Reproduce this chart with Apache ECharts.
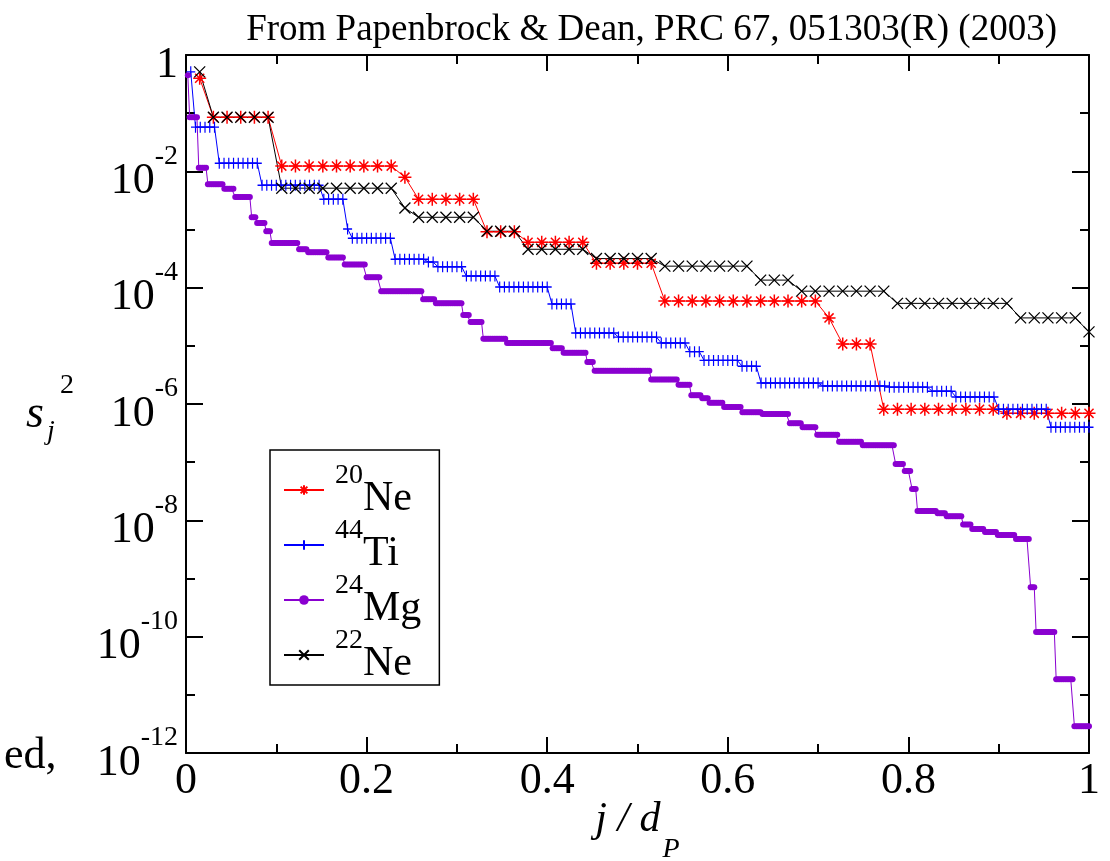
<!DOCTYPE html>
<html>
<head>
<meta charset="utf-8">
<script src="https://cdn.jsdelivr.net/npm/echarts@6/dist/echarts.min.js"></script>
<style>
html,body{margin:0;padding:0;background:#fff;}
#chart{width:1110px;height:861px;}
</style>
</head>
<body>
<div id="chart"></div>
<script>
// proton-space dimensions d_P (number of points j = 1..d_P)
const dP_Ne20 = 66, dP_Ne22 = 66, dP_Ti44 = 190, dP_Mg24 = 495;

// Each series is a staircase: run lengths (points) and log10(s_j^2) of each plateau
const ne20Counts = [1,5,9,1,5,3,5,5,12,1,3,9,7];
const ne20Levels = [-0.40,-1.07,-1.91,-2.10,-2.48,-3.04,-3.22,-3.58,-4.23,-4.52,-4.97,-6.09,-6.16];

const ti44Counts = [1,5,9,13,5,1,9,7,2,6,7,11,5,9,9,6,3,8,4,13,14,9,5,9,11,9];
const ti44Levels = [-0.29,-1.24,-1.86,-2.24,-2.48,-2.99,-3.15,-3.51,-3.56,-3.64,-3.80,-3.99,-4.28,-4.78,-4.85,-4.95,-5.10,-5.25,-5.35,-5.64,-5.69,-5.71,-5.78,-5.88,-6.09,-6.40];

const mg24Counts = [1,5,5,9,6,9,3,5,3,15,5,11,9,12,8,23,7,15,4,7,13,25,6,13,4,31,15,7,6,4,8,10,11,15,7,8,12,13,18,5,4,3,11,5,9,5,7,7,10,8,3,11,10,9];
const mg24Levels = [-0.35,-1.07,-1.94,-2.22,-2.30,-2.44,-2.79,-2.89,-3.03,-3.23,-3.34,-3.39,-3.48,-3.60,-3.82,-4.06,-4.20,-4.27,-4.47,-4.59,-4.88,-4.95,-5.04,-5.12,-5.28,-5.43,-5.58,-5.67,-5.85,-5.90,-5.98,-6.05,-6.14,-6.17,-6.33,-6.40,-6.53,-6.65,-6.71,-7.03,-7.15,-7.46,-7.84,-7.88,-7.93,-8.07,-8.15,-8.20,-8.25,-8.32,-9.15,-9.92,-10.73,-11.54];

const ne22Counts = [1,5,9,1,5,3,5,5,7,3,7,9,5,1];
const ne22Levels = [-0.29,-1.07,-2.29,-2.63,-2.79,-3.03,-3.34,-3.50,-3.63,-3.87,-4.06,-4.27,-4.52,-4.76];

const seriesNames = ['20Ne','44Ti','24Mg','22Ne'];
const legendLabels = {
  '20Ne': ['20','Ne'], '44Ti': ['44','Ti'], '24Mg': ['24','Mg'], '22Ne': ['22','Ne']
};
const xTickLabels = ['0','0.2','0.4','0.6','0.8','1'];
const titleText = 'From Papenbrock & Dean, PRC 67, 051303(R) (2003)';

// build [j/d_P, log10 s_j^2] points from the runs
function buildPoints(counts, levels, dP) {
  const pts = [];
  let j = 0;
  counts.forEach((c, k) => {
    for (let i = 0; i < c; i++) { j++; pts.push([j / dP, levels[k]]); }
  });
  return pts;
}

const FONT = '"Liberation Serif","DejaVu Serif",serif';
const ASTERISK = 'path://M5,0L5,10M0,5L10,5M1.5,1.5L8.5,8.5M1.5,8.5L8.5,1.5';
const PLUS = 'path://M5,0L5,10M0,5L10,5';
const CROSS = 'path://M0,0L10,10M0,10L10,0';

const chart = echarts.init(document.getElementById('chart'), null, {renderer:'canvas'});

const yLabelRich = {
  b: {fontFamily: FONT, fontSize: 44, color:'#000', height: 30, lineHeight: 50, verticalAlign:'bottom'},
  s: {fontFamily: FONT, fontSize: 28, color:'#000', height: 20, lineHeight: 20, verticalAlign:'top'}
};

const option = {
  animation: false,
  backgroundColor: '#fff',
  title: {
    text: titleText, right: 48, top: 7,
    textStyle: {fontFamily: FONT, fontSize: 37, fontWeight: 'normal', color: '#000'}
  },
  grid: {left: 186, right: 21, top: 55, bottom: 108, containLabel: false, outerBoundsMode: 'none'},
  legend: {
    data: seriesNames,
    orient: 'vertical', left: 270, top: 450,
    padding: [12, 18, 0, 13], itemGap: -3,
    itemWidth: 40, itemHeight: 12,
    borderColor: '#000', borderWidth: 1.5, backgroundColor: '#fff',
    formatter: n => '{sup|' + legendLabels[n][0] + '}{el|' + legendLabels[n][1] + '}',
    textStyle: {
      rich: {
        sup: {fontFamily: FONT, fontSize: 28, color:'#000', height: 14, lineHeight: 14, verticalAlign:'top', padding:[0,0,0,6]},
        el: {fontFamily: FONT, fontSize: 42, color:'#000', height: 24, lineHeight: 42, verticalAlign:'bottom'}
      }
    }
  },
  xAxis: [{
    type: 'value', min: 0, max: 1, interval: 0.2, position: 'bottom',
    axisLine: {show: true, onZero: false, lineStyle: {color:'#000', width: 2}},
    axisTick: {show: true, inside: true, length: 16, lineStyle: {color:'#000', width: 2}},
    minorTick: {show: true, splitNumber: 2, length: 9, lineStyle: {color:'#000', width: 2}},
    splitLine: {show: false},
    axisLabel: {
      margin: 6, color:'#000', fontFamily: FONT, fontSize: 44,
      formatter: v => xTickLabels[Math.round(v / 0.2)]
    },
    name: '{i|j / d}{sub|P}', nameLocation: 'middle', nameGap: 52, nameMoveOverlap: false,
    nameTextStyle: {
      rich: {
        i: {fontFamily: FONT, fontStyle:'italic', fontSize: 42, color:'#000', height: 30, lineHeight: 50, verticalAlign:'top'},
        sub: {fontFamily: FONT, fontStyle:'italic', fontSize: 28, color:'#000', height: 10, lineHeight: 10, verticalAlign:'bottom', padding:[0,0,0,2]}
      }
    }
  }, {
    type: 'value', min: 0, max: 1, interval: 0.2, position: 'top',
    axisLine: {show: true, onZero: false, lineStyle: {color:'#000', width: 2}},
    axisTick: {show: true, inside: true, length: 16, lineStyle: {color:'#000', width: 2}},
    minorTick: {show: true, splitNumber: 2, length: 9, lineStyle: {color:'#000', width: 2}},
    splitLine: {show: false}, axisLabel: {show: false}
  }],
  yAxis: [{
    type: 'value', min: -12, max: 0, interval: 2, position: 'left',
    axisLine: {show: true, onZero: false, lineStyle: {color:'#000', width: 2}},
    axisTick: {show: true, inside: true, length: 17, lineStyle: {color:'#000', width: 2}},
    minorTick: {show: true, splitNumber: 2, length: 9, lineStyle: {color:'#000', width: 2}},
    splitLine: {show: false},
    axisLabel: {
      margin: 8, rich: yLabelRich,
      formatter: v => v === 0 ? '{b|1}' : '{b|10}{s|' + v + '}'
    }
  }, {
    type: 'value', min: -12, max: 0, interval: 2, position: 'right',
    axisLine: {show: true, onZero: false, lineStyle: {color:'#000', width: 2}},
    axisTick: {show: true, inside: true, length: 17, lineStyle: {color:'#000', width: 2}},
    minorTick: {show: true, splitNumber: 2, length: 9, lineStyle: {color:'#000', width: 2}},
    splitLine: {show: false}, axisLabel: {show: false}
  }],
  series: [
    {
      name: '20Ne', type: 'line', xAxisIndex: 0, yAxisIndex: 0,
      data: buildPoints(ne20Counts, ne20Levels, dP_Ne20),
      symbol: ASTERISK, symbolSize: 13, showAllSymbol: true,
      lineStyle: {color:'#ff0000', width: 1},
      itemStyle: {color:'#ff0000', borderColor:'#ff0000', borderWidth: 1.5}
    },
    {
      name: '44Ti', type: 'line', xAxisIndex: 0, yAxisIndex: 0,
      data: buildPoints(ti44Counts, ti44Levels, dP_Ti44),
      symbol: PLUS, symbolSize: [9, 11], showAllSymbol: true,
      lineStyle: {color:'#0000ff', width: 1},
      itemStyle: {color:'#0000ff', borderColor:'#0000ff', borderWidth: 1.3}
    },
    {
      name: '24Mg', type: 'line', xAxisIndex: 0, yAxisIndex: 0,
      data: buildPoints(mg24Counts, mg24Levels, dP_Mg24),
      symbol: 'circle', symbolSize: 6, showAllSymbol: true,
      lineStyle: {color:'#8a00d0', width: 1},
      itemStyle: {color:'#8a00d0', borderWidth: 0}
    },
    {
      name: '22Ne', type: 'line', xAxisIndex: 0, yAxisIndex: 0,
      data: buildPoints(ne22Counts, ne22Levels, dP_Ne22),
      symbol: CROSS, symbolSize: 11, showAllSymbol: true,
      lineStyle: {color:'#000000', width: 1},
      itemStyle: {color:'#000000', borderColor:'#000000', borderWidth: 1.3}
    }
  ],
  graphic: [
    {type:'text', left: 26, top: 392, style:{text:'s', font:'italic 46px ' + FONT, fill:'#000'}},
    {type:'text', left: 47, top: 418, style:{text:'j', font:'italic 28px ' + FONT, fill:'#000'}},
    {type:'text', left: 60, top: 372, style:{text:'2', font:'28px ' + FONT, fill:'#000'}},
    {type:'text', left: 4, top: 734, style:{text:'ed,', font:'44px ' + FONT, fill:'#000'}}
  ]
};
chart.setOption(option);
</script>
</body>
</html>
